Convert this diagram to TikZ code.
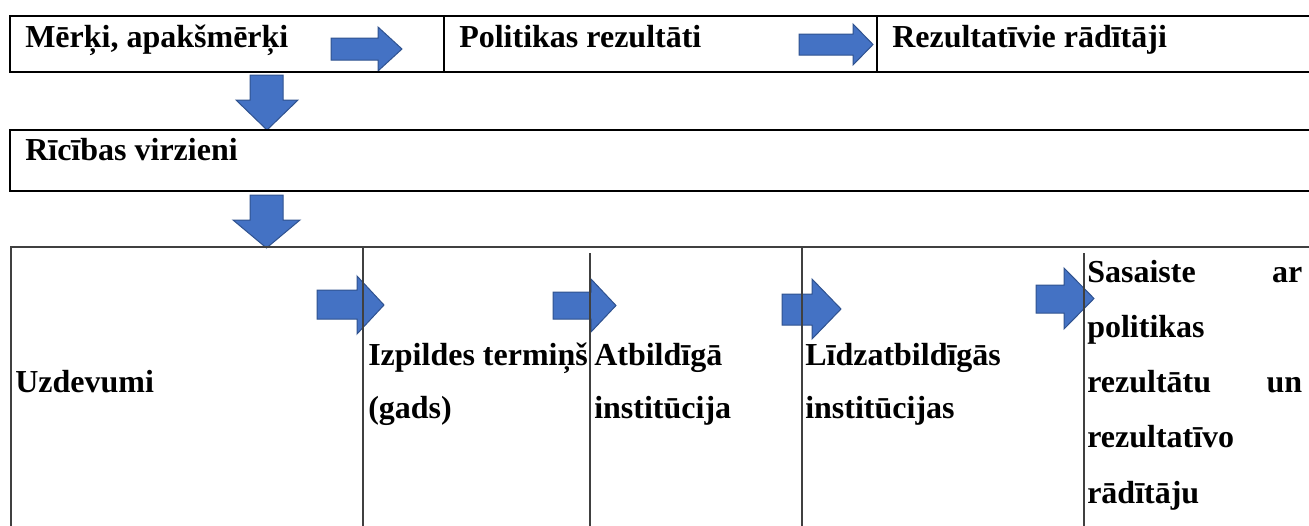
\documentclass[tikz,border=0pt]{standalone}
\usepackage{fontspec}
\setmainfont{Liberation Serif}
\definecolor{arrowfill}{HTML}{4472C4}
\definecolor{arrowedge}{HTML}{2F528F}
\definecolor{gridgrey}{HTML}{404040}
\newcommand\RightBlock[7]{% x0 xhead xtip ybody0 ybody1 yhead0 yhead1
  \filldraw[blockarrow] (#1,#4) -- (#2,#4) -- (#2,#6) -- (#3,{(#6+#7)/2}) -- (#2,#7) -- (#2,#5) -- (#1,#5) -- cycle;}
\newcommand\DownBlock[7]{% y0 yhead ytip xbody0 xbody1 xhead0 xhead1
  \filldraw[blockarrow] (#4,#1) -- (#4,#2) -- (#6,#2) -- ({(#6+#7)/2},#3) -- (#7,#2) -- (#5,#2) -- (#5,#1) -- cycle;}
\begin{document}
\begin{tikzpicture}[x=0.75pt,y=-0.75pt,
  txt/.style={anchor=base west,inner sep=0pt,font=\bfseries\fontsize{24}{30}\selectfont},
  thickbox/.style={line width=1.5pt,draw=black},
  thinbox/.style={line width=1.2pt,draw=gridgrey},
  blockarrow/.style={fill=arrowfill,draw=arrowedge,line width=0.75pt,line join=miter}]
\useasboundingbox (0,0) rectangle (1309,525);

% block arrows
\RightBlock{331}{378}{402}{38}{60}{27}{71}
\RightBlock{799}{853}{873}{34}{55}{24}{65}
\DownBlock{75}{100}{130}{250}{283}{236}{298}
\DownBlock{195}{220}{248}{250}{283}{233}{300}
\RightBlock{317}{357}{384}{290}{319}{276}{334}
\RightBlock{553}{591}{616}{292}{319}{279}{332}
\RightBlock{782}{812}{841}{294}{325}{279}{339}
\RightBlock{1036}{1064}{1094}{285}{313}{268}{329}

% first row
\draw[thickbox] (1315,16) -- (10,16) -- (10,72) -- (1315,72);
\draw[thickbox] (444,16) -- (444,72);
\draw[thickbox] (877,16) -- (877,72);
% second row
\draw[thickbox] (1315,130) -- (10,130) -- (10,191) -- (1315,191);
% table
\draw[thinbox] (11,530) -- (11,247) -- (1315,247);
\draw[thinbox] (363,247) -- (363,530);
\draw[thinbox] (590,253) -- (590,530);
\draw[thinbox] (802,247) -- (802,530);
\draw[thinbox] (1084,253) -- (1084,530);

% texts
\node[txt] (merki) at (25,47) {Mērķi, apakšmērķi};
\node[txt] (polrez) at (459,47) {Politikas rezultāti};
\node[txt] (rezrad) at (892,47) {Rezultatīvie rādītāji};
\node[txt] (ricib) at (25,160) {Rīcības virzieni};
\node[txt] (uzd) at (15,392) {Uzdevumi};
\node[txt] (izp1) at (368,365) {Izpildes termiņš};
\node[txt] (izp2) at (368,418) {(gads)};
\node[txt] (atb1) at (594,365) {Atbildīgā};
\node[txt] (atb2) at (594,418) {institūcija};
\node[txt] (lidz1) at (805,365) {Līdzatbildīgās};
\node[txt] (lidz2) at (805,418) {institūcijas};
\node[txt] (sas1) at (1087,282) {\makebox[161.25pt][s]{Sasaiste ar}};
\node[txt] (sas2) at (1087,337.25) {politikas};
\node[txt] (sas3) at (1087,392.5) {\makebox[161.25pt][s]{rezultātu un}};
\node[txt] (sas4) at (1087,447.75) {rezultatīvo};
\node[txt] (sas5) at (1087,503) {rādītāju};
\end{tikzpicture}
\end{document}
